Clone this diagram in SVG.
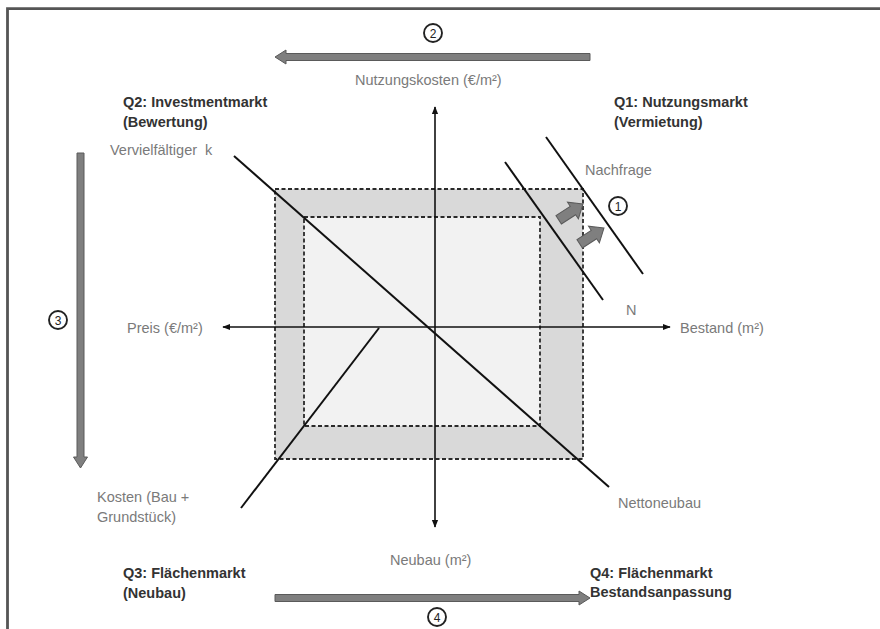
<svg xmlns="http://www.w3.org/2000/svg" width="880" height="629" viewBox="0 0 880 629">
<style>
.lbl{font-family:"Liberation Sans",Arial,sans-serif;font-size:14.5px;fill:#7a7a7a}
.q{font-family:"Liberation Sans",Arial,sans-serif;font-size:14.5px;font-weight:bold;fill:#333}
.num{font-family:"Liberation Sans",Arial,sans-serif;font-size:12px;fill:#222;text-anchor:middle}
.circ{fill:#fff;stroke:#222;stroke-width:1.9}
.axis{stroke:#111;stroke-width:1.6;fill:none}
.curve{stroke:#111;stroke-width:2;fill:none}
.dash{stroke:#2a2a2a;stroke-width:1.8;stroke-dasharray:4 2.5}
.block{fill:#7f7f7f;stroke:#5a5a5a;stroke-width:1}
</style>
<defs>
<marker id="ah" viewBox="0 0 10 10" refX="9" refY="5" markerWidth="5" markerHeight="5" orient="auto-start-reverse">
<path d="M0,1 L10,5 L0,9 Z" fill="#111"/>
</marker>
</defs>
<rect width="880" height="629" fill="#fff"/>
<!-- frame -->
<path d="M7.5,629 V8.7 H880" fill="none" stroke="#555" stroke-width="2.8"/>

<!-- shaded rectangles -->
<g id="outer-rect"><rect x="275" y="189" width="308" height="270" fill="#d9d9d9" class="dash"/></g>
<g id="inner-rect"><rect x="304" y="217" width="236" height="209" fill="#f2f2f2" class="dash"/></g>

<g id="connectors">
<!-- axes -->
<line class="axis" x1="435" y1="327" x2="435" y2="107" marker-end="url(#ah)"/>
<line class="axis" x1="435" y1="327" x2="435" y2="527" marker-end="url(#ah)"/>
<line class="axis" x1="435" y1="327" x2="223" y2="327" marker-end="url(#ah)"/>
<line class="axis" x1="435" y1="327" x2="670" y2="327" marker-end="url(#ah)"/>
<!-- curves -->
<line class="curve" x1="234" y1="156" x2="609" y2="487"/>
<line class="curve" x1="379" y1="328" x2="241" y2="508"/>
<line class="curve" x1="505" y1="162" x2="603" y2="300"/>
<line class="curve" x1="546" y1="137" x2="643" y2="274"/>
<!-- shift arrows -->
<path class="block" transform="translate(583,204) rotate(-33)" d="M0,0 L-12,-10 L-12,-5 L-29,-5 L-29,5 L-12,5 L-12,10 Z"/>
<path class="block" transform="translate(604,228) rotate(-33)" d="M0,0 L-12,-10 L-12,-5 L-29,-5 L-29,5 L-12,5 L-12,10 Z"/>
<!-- process arrows -->
<path class="block" d="M275,57 L286,50 L286,53.5 L590,53.5 L590,60.5 L286,60.5 L286,64 Z"/>
<path class="block" d="M80.5,468 L73.5,457 L77,457 L77,153 L84,153 L84,457 L87.5,457 Z"/>
<path class="block" d="M590,598 L579,591 L579,594.5 L275,594.5 L275,601.5 L579,601.5 L579,605 Z"/>
</g>

<g id="num1"><circle class="circ" cx="618" cy="206" r="9"/><text class="num" x="618" y="210.5">1</text></g>
<g id="num2"><circle class="circ" cx="433" cy="33" r="9"/><text class="num" x="433" y="37.5">2</text></g>
<g id="num3"><circle class="circ" cx="58" cy="320" r="9"/><text class="num" x="58" y="324.5">3</text></g>
<g id="num4"><circle class="circ" cx="437" cy="617" r="9"/><text class="num" x="437" y="621.5">4</text></g>

<g id="labels">
<text class="lbl" x="355" y="85">Nutzungskosten (€/m²)</text>
<text class="q" x="123" y="107">Q2: Investmentmarkt</text>
<text class="q" x="123" y="127">(Bewertung)</text>
<text class="q" x="614" y="107">Q1: Nutzungsmarkt</text>
<text class="q" x="614" y="127">(Vermietung)</text>
<text class="lbl" x="110" y="155" xml:space="preserve" style="white-space:pre">Vervielfältiger  k</text>
<text class="lbl" x="585" y="175">Nachfrage</text>
<text class="lbl" x="626" y="315">N</text>
<text class="lbl" x="127" y="333">Preis (€/m²)</text>
<text class="lbl" x="680" y="333">Bestand (m²)</text>
<text class="lbl" x="97" y="502">Kosten (Bau +</text>
<text class="lbl" x="97" y="522">Grundstück)</text>
<text class="lbl" x="618" y="508">Nettoneubau</text>
<text class="lbl" x="390" y="565">Neubau (m²)</text>
<text class="q" x="123" y="578">Q3: Flächenmarkt</text>
<text class="q" x="123" y="598">(Neubau)</text>
<text class="q" x="590" y="578">Q4: Flächenmarkt</text>
<text class="q" x="590" y="597">Bestandsanpassung</text>
</g>
</svg>
